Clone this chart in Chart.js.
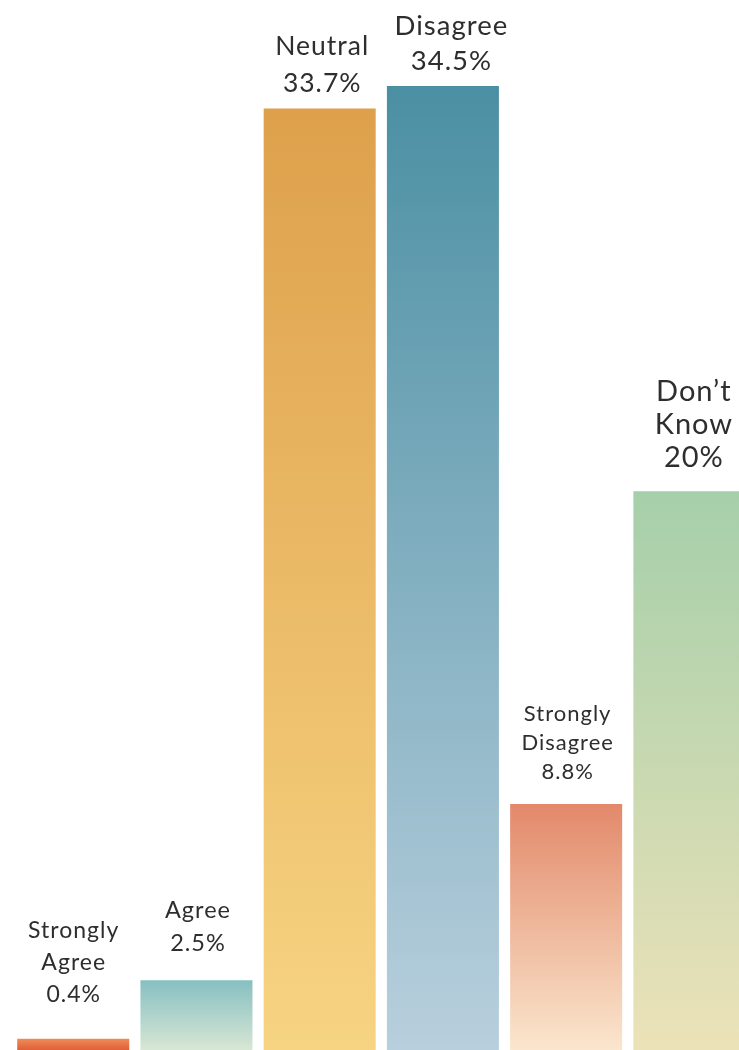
<!DOCTYPE html>
<html>
<head>
<meta charset="utf-8">
<script src="https://cdn.jsdelivr.net/npm/chart.js@4/dist/chart.umd.min.js"></script>
<style>
  html, body { margin: 0; padding: 0; background: #ffffff; overflow: hidden; }
  #wrap { width: 751px; height: 1050px; position: relative; }
</style>
</head>
<body>
<div id="wrap"><canvas id="c" width="751" height="1050"></canvas></div>
<script>
// ---- Data ----
const categories = ["Strongly Agree", "Agree", "Neutral", "Disagree", "Strongly Disagree", "Don’t Know"];
const labelLines = [["Strongly", "Agree"], ["Agree"], ["Neutral"], ["Disagree"], ["Strongly", "Disagree"], ["Don’t", "Know"]];
const values = [0.4, 2.5, 33.7, 34.5, 8.8, 20];

// ---- Styles ----
const topColors    = ["#ef8c58", "#86bfc2", "#dea04b", "#4b8fa3", "#e3896a", "#a5cfaa"];
const bottomColors = ["#e25f37", "#d8e7d4", "#f7d482", "#b8cfdd", "#fae6cd", "#ece2b8"];
const fontSizes    = [23, 23.5, 26.5, 27.5, 22, 29];
const lineHeights  = [32, 33, 37, 35, 29, 33];
const labelGaps    = [37, 29, 16, 16, 25, 24];
const labelShiftX  = [0, 1, 2, 8, 1, 4];

function barGradient(context) {
  const chart = context.chart;
  const area = chart.chartArea;
  if (!area) return topColors[context.dataIndex];
  const i = context.dataIndex;
  const yScale = chart.scales.y;
  const yTop = yScale.getPixelForValue(values[i]);
  const yBot = yScale.getPixelForValue(0);
  const g = chart.ctx.createLinearGradient(0, yTop, 0, yBot);
  g.addColorStop(0, topColors[i]);
  g.addColorStop(1, bottomColors[i]);
  return g;
}

const labelPlugin = {
  id: 'barLabels',
  afterDatasetsDraw(chart) {
    const ctx = chart.ctx;
    const meta = chart.getDatasetMeta(0);
    ctx.save();
    ctx.fillStyle = '#2e2e2e';
    ctx.textAlign = 'center';
    ctx.textBaseline = 'alphabetic';
    if ('letterSpacing' in ctx) ctx.letterSpacing = '1px';
    meta.data.forEach((bar, i) => {
      const lines = labelLines[i].concat([String(values[i]) + '%']);
      ctx.font = fontSizes[i] + 'px Lato, "Open Sans", sans-serif';
      const x = bar.x + labelShiftX[i] + 0.5;
      let y = bar.y - labelGaps[i];
      for (let k = lines.length - 1; k >= 0; k--) {
        ctx.fillText(lines[k], x, y);
        y -= lineHeights[i];
      }
    });
    ctx.restore();
  }
};

new Chart(document.getElementById('c'), {
  type: 'bar',
  data: {
    labels: categories,
    datasets: [{
      data: values,
      backgroundColor: barGradient,
      borderWidth: 0,
      barPercentage: 0.909,
      categoryPercentage: 1.0
    }]
  },
  options: {
    responsive: false,
    animation: false,
    layout: { padding: { left: 11.6, right: 0, top: 0, bottom: 0 } },
    plugins: { legend: { display: false }, tooltip: { enabled: false } },
    scales: {
      x: { display: false, offset: true },
      y: { display: false, min: 0, max: 37.58 }
    }
  },
  plugins: [labelPlugin]
});
</script>
</body>
</html>
